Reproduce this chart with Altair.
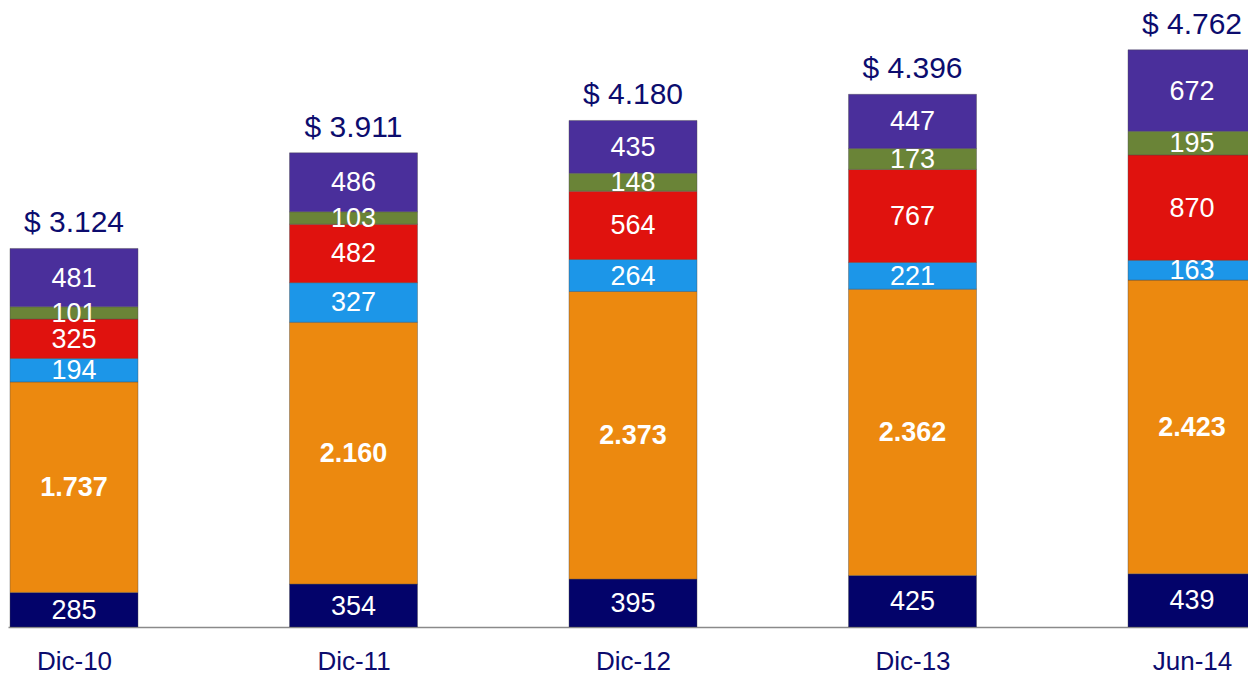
import altair as alt
import pandas as pd

cats = ["Dic-10", "Dic-11", "Dic-12", "Dic-13", "Jun-14"]
navy = [285, 354, 395, 425, 439]
orange = [1737, 2160, 2373, 2362, 2423]
blue = [194, 327, 264, 221, 163]
red = [325, 482, 564, 767, 870]
green = [101, 103, 148, 173, 195]
purple = [481, 486, 435, 447, 672]
totals = [3124, 3911, 4180, 4396, 4762]

series_names = ["s1", "s2", "s3", "s4", "s5", "s6"]
series_vals = [navy, orange, blue, red, green, purple]
series_colors = ["#03036A", "#EC890F", "#1C96E8", "#E0120E", "#6A8437", "#4A2F9B"]

def fmt(v):
    return f"{v:,}".replace(",", ".")

rows = []
for k, (name, vals) in enumerate(zip(series_names, series_vals)):
    for i, c in enumerate(cats):
        rows.append({"cat": c, "xi": i, "series": name, "k": k, "value": vals[i],
                     "label": fmt(vals[i]), "bold": 1 if name == "s2" else 0})
df = pd.DataFrame(rows)
tot = pd.DataFrame({"cat": cats, "xi": list(range(len(cats))), "total": totals,
                    "label": ["$ " + fmt(t) for t in totals]})

W = 1240
H = 619
step = 279.5
c0 = 66
xscale = alt.Scale(domain=[-c0 / step, (W - c0) / step], nice=False, zero=False, padding=0)
yscale = alt.Scale(domain=[0, 5107], nice=False, zero=True, padding=0)
label_expr = "[" + ",".join(f"'{c}'" for c in cats) + "][datum.value]"
navy_txt = "#0C0C6E"

xaxis = alt.Axis(values=list(range(len(cats))), labelExpr=label_expr, grid=False, ticks=False,
                 domainColor="#8a8a8a", domainWidth=1.5, labelColor=navy_txt, labelFontSize=26,
                 labelFont="Liberation Sans", labelPadding=21, title=None,
                 labelOverlap=False, labelBound=False, labelFlush=False)

base = alt.Chart(df).transform_stack(
    stack="value", groupby=["cat"], as_=["y0", "y1"], sort=[alt.SortField("k", order="ascending")]
).transform_calculate(mid="(datum.y0 + datum.y1) / 2")

bars = base.mark_bar(size=128, clip=True, stroke="#4a4a4a", strokeWidth=0.8, strokeOpacity=0.5).encode(
    x=alt.X("xi:Q", scale=xscale, axis=xaxis),
    y=alt.Y("y0:Q", scale=yscale, axis=None),
    y2="y1:Q",
    color=alt.Color("series:N", scale=alt.Scale(domain=series_names, range=series_colors), legend=None),
)

txt_norm = base.transform_filter("datum.bold == 0").mark_text(
    color="white", fontSize=27, font="Liberation Sans", baseline="middle", dy=1
).encode(x=alt.X("xi:Q", scale=xscale), y=alt.Y("mid:Q", scale=yscale), text="label:N")

txt_bold = base.transform_filter("datum.bold == 1").mark_text(
    color="white", fontSize=27, font="Liberation Sans", fontWeight="bold", baseline="middle", dy=1
).encode(x=alt.X("xi:Q", scale=xscale), y=alt.Y("mid:Q", scale=yscale), text="label:N")

tot_txt = alt.Chart(tot).mark_text(
    color=navy_txt, fontSize=30, font="Liberation Sans", baseline="alphabetic", dy=-16
).encode(x=alt.X("xi:Q", scale=xscale), y=alt.Y("total:Q", scale=yscale), text="label:N")

chart = alt.layer(bars, txt_norm, txt_bold, tot_txt).properties(
    width=W, height=H, padding=0, background="white"
).configure_view(stroke=None)

chart.save("out.html", embed_options={"renderer": "svg", "actions": False})
